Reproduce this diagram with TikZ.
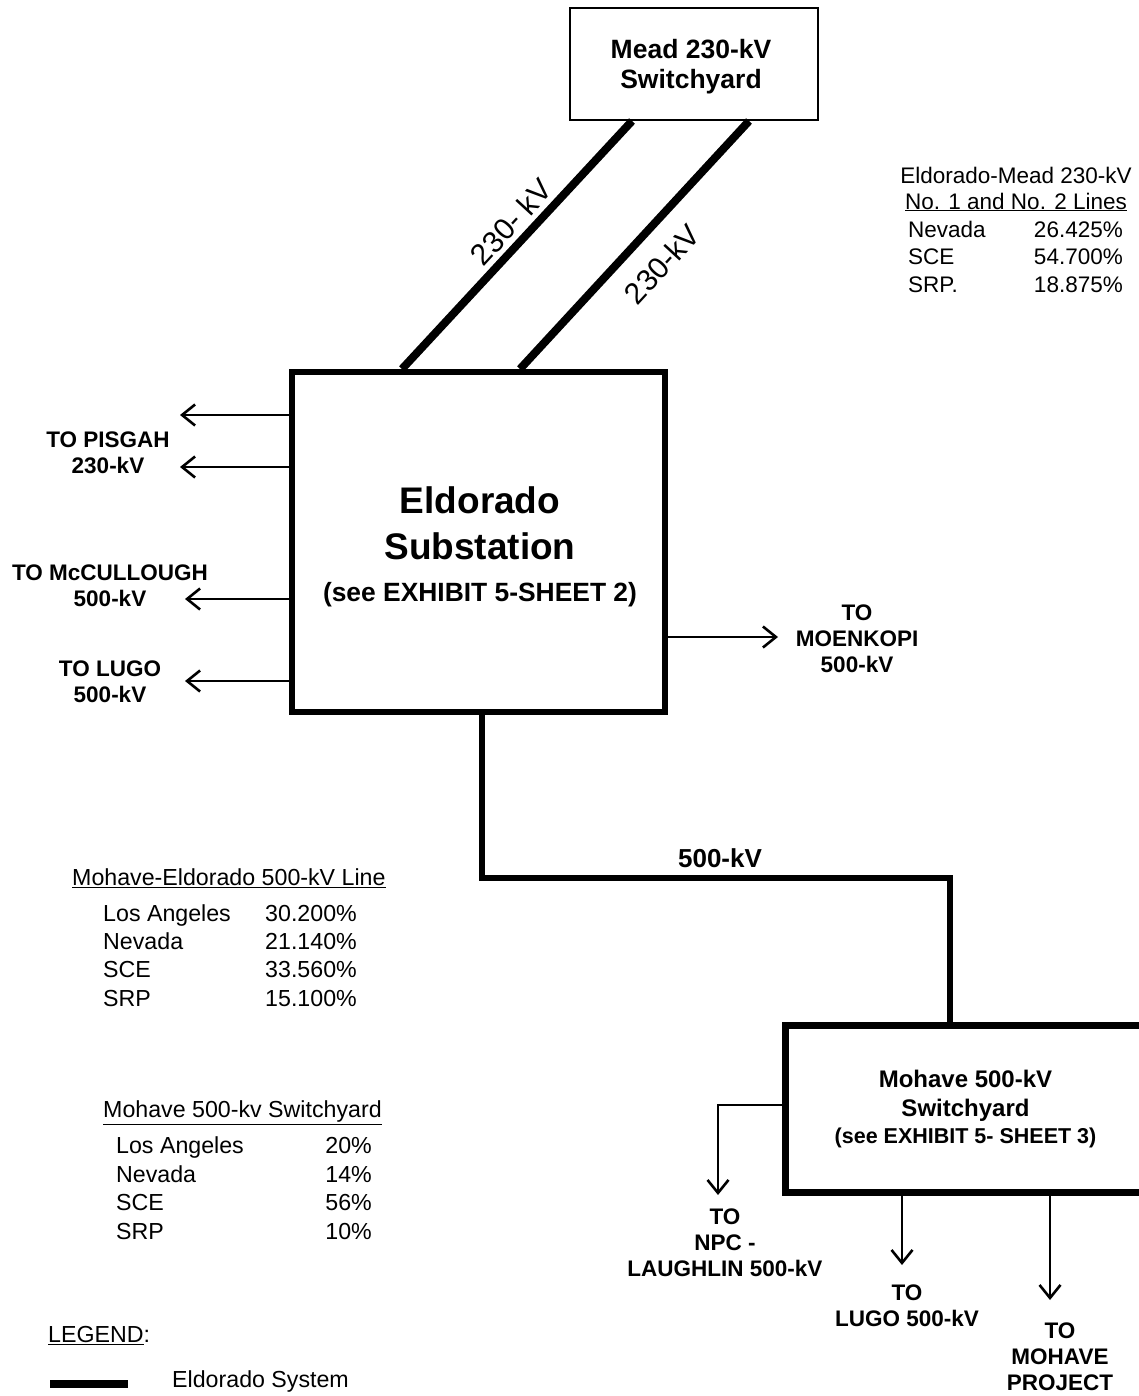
\documentclass[tikz,border=0pt]{standalone}
\usepackage{fontspec}
\setmainfont{Liberation Sans}
\usetikzlibrary{arrows.meta,positioning}

\begin{document}
\begin{tikzpicture}[x=1pt, y=-1pt,
            box/.style={rectangle, draw=black, line width=6pt, align=center, inner sep=0pt},
            lbl/.style={font=\bfseries\fontsize{22.5}{26}\selectfont, align=center, inner sep=0pt},
            kvlbl/.style={font=\fontsize{30}{32}\selectfont, inner sep=0pt, rotate=47.4},
            tbl/.style={font=\fontsize{22.5}{27}\selectfont, inner sep=0pt},
            tblb/.style={font=\fontsize{23.2}{27}\selectfont, inner sep=0pt},
            sys/.style={line width=6pt},
            flow/.style={-{Straight Barb[length=13pt, width=21pt, line width=2.6pt]}, line width=1.8pt},
            every node/.style={align=center}
        ]
        \useasboundingbox (0,0) rectangle (1139,1396);

        % Switchyards and substation
        \node[box, line width=2pt, minimum width=248pt, minimum height=112pt] (mead) at (694,64) {};
        \node[font=\bfseries\fontsize{26.5}{30}\selectfont, inner sep=0pt] (meadtxt)
            at ([xshift=-3pt, yshift=-3pt]mead.center) {Mead 230-kV\\Switchyard};

        \node[box, minimum width=373pt, minimum height=340pt] (eldorado) at (478.5,542) {};
        \node[font=\bfseries\fontsize{37}{46}\selectfont, inner sep=0pt] (eldotxt)
            at ([xshift=1.5pt, yshift=-5pt]eldorado.center)
            {Eldorado\\Substation\\[-3.5pt]{\fontsize{26.4}{30}\selectfont (see EXHIBIT 5-SHEET 2)}};

        \node[box, line width=7pt, minimum width=365pt, minimum height=167pt] (mohave) at (967.5,1108.5) {};
        \node[font=\bfseries\fontsize{24}{29}\selectfont, inner sep=0pt] (mohtxt)
            at ([xshift=-2pt, yshift=-1pt]mohave.center)
            {Mohave 500-kV\\Switchyard\\[-2pt]{\fontsize{21.5}{28}\selectfont (see EXHIBIT 5- SHEET 3)}};

        % 230-kV lines to Mead
        \draw[sys, line width=8pt] ([xshift=113pt]eldorado.north west) -- ([xshift=63pt]mead.south west);
        \draw[sys, line width=8pt] ([xshift=231pt]eldorado.north west) -- ([xshift=180pt]mead.south west);
        \node[kvlbl] (kvone) at (511,222) {230- kV};
        \node[kvlbl] (kvtwo) at (662,264) {230-kV};

        % 500-kV line to Mohave
        \coordinate (bend) at (950,878);
        \draw[sys] ([xshift=3.5pt]eldorado.south) |- (bend) -- (bend |- mohave.north);
        \node[lbl, font=\bfseries\fontsize{26}{28}\selectfont] (kvfive) at (720,858) {500-kV};

        % Feeders out of Eldorado
        \coordinate (pisA) at (180,415);
        \coordinate (pisB) at (180,467);
        \coordinate (mcc) at (185,599);
        \coordinate (lugo) at (185,681);
        \coordinate (moe) at (778,637);
        \draw[flow] (pisA -| eldorado.west) -- (pisA);
        \draw[flow] (pisB -| eldorado.west) -- (pisB);
        \draw[flow] (mcc -| eldorado.west) -- (mcc);
        \draw[flow] (lugo -| eldorado.west) -- (lugo);
        \draw[flow] (moe -| eldorado.east) -- (moe);
        \node[lbl] (pisgah) at (108,453) {TO PISGAH\\230-kV};
        \node[lbl] (mccullough) at (110,586) {TO McCULLOUGH\\500-kV};
        \node[lbl] (lugoel) at (110,681.5) {TO LUGO\\500-kV};
        \node[lbl] (moenkopi) at (857,639) {TO\\MOENKOPI\\500-kV};

        % Feeders out of Mohave
        \coordinate (npc) at (718,1195);
        \coordinate (lugomo) at (902,1265);
        \coordinate (proj) at (1050,1300);
        \draw[flow] ([yshift=3.5pt]mohave.west) -| (npc);
        \draw[flow] (lugomo |- mohave.south) -- (lugomo);
        \draw[flow] (proj |- mohave.south) -- (proj);
        \node[lbl] (laughlin) at (725,1243) {TO\\NPC -\\LAUGHLIN 500-kV};
        \node[lbl] (lugotxt) at (907,1305.5) {TO\\LUGO 500-kV};
        \node[lbl] (mohproj) at (1060,1357) {TO\\MOHAVE\\PROJECT};

        % Ownership tables
        \node[tbl] (emtitle) at (1016,175) {Eldorado-Mead 230-kV};
        \node[tbl] (emsub) at (1016,202) {\underline{No. 1 and No. 2 Lines}};
        \foreach \nm/\pc [count=\i] in {Nevada/26.425\%, SCE/54.700\%, SRP./18.875\%}{
            \node[tbl, anchor=mid west] (em-n\i) at (908, 207+27.5*\i) {\nm};
            \node[tbl, anchor=mid east] (em-p\i) at (1123, 207+27.5*\i) {\pc};
        }

        \node[tblb, anchor=mid west] (metitle) at (72,883) {\underline{Mohave-Eldorado 500-kV Line}};
        \foreach \nm/\pc [count=\i] in {Los Angeles/30.200\%, Nevada/21.140\%, SCE/33.560\%, SRP/15.100\%}{
            \node[tblb, anchor=mid west] (me-n\i) at (103, 890+28.4*\i) {\nm};
            \node[tblb, anchor=mid east] (me-p\i) at (357, 890+28.4*\i) {\pc};
        }

        \node[tblb, anchor=mid west] (mstitle) at (103,1115) {\underline{Mohave 500-kv Switchyard}};
        \foreach \nm/\pc [count=\i] in {Los Angeles/20\%, Nevada/14\%, SCE/56\%, SRP/10\%}{
            \node[tblb, anchor=mid west] (ms-n\i) at (116, 1122+28.7*\i) {\nm};
            \node[tblb, anchor=mid east] (ms-p\i) at (372, 1122+28.7*\i) {\pc};
        }

        % Legend
        \node[tblb, anchor=mid west] (legend) at (48,1340) {\underline{LEGEND}:};
        \coordinate (lgA) at (50,1384);
        \coordinate (lgB) at (128,1384);
        \draw[sys, line width=8pt] (lgA) -- (lgB);
        \node[tblb, anchor=mid west] (lgtext) at (172,1385) {Eldorado System};

        \end{tikzpicture}
\end{document}
